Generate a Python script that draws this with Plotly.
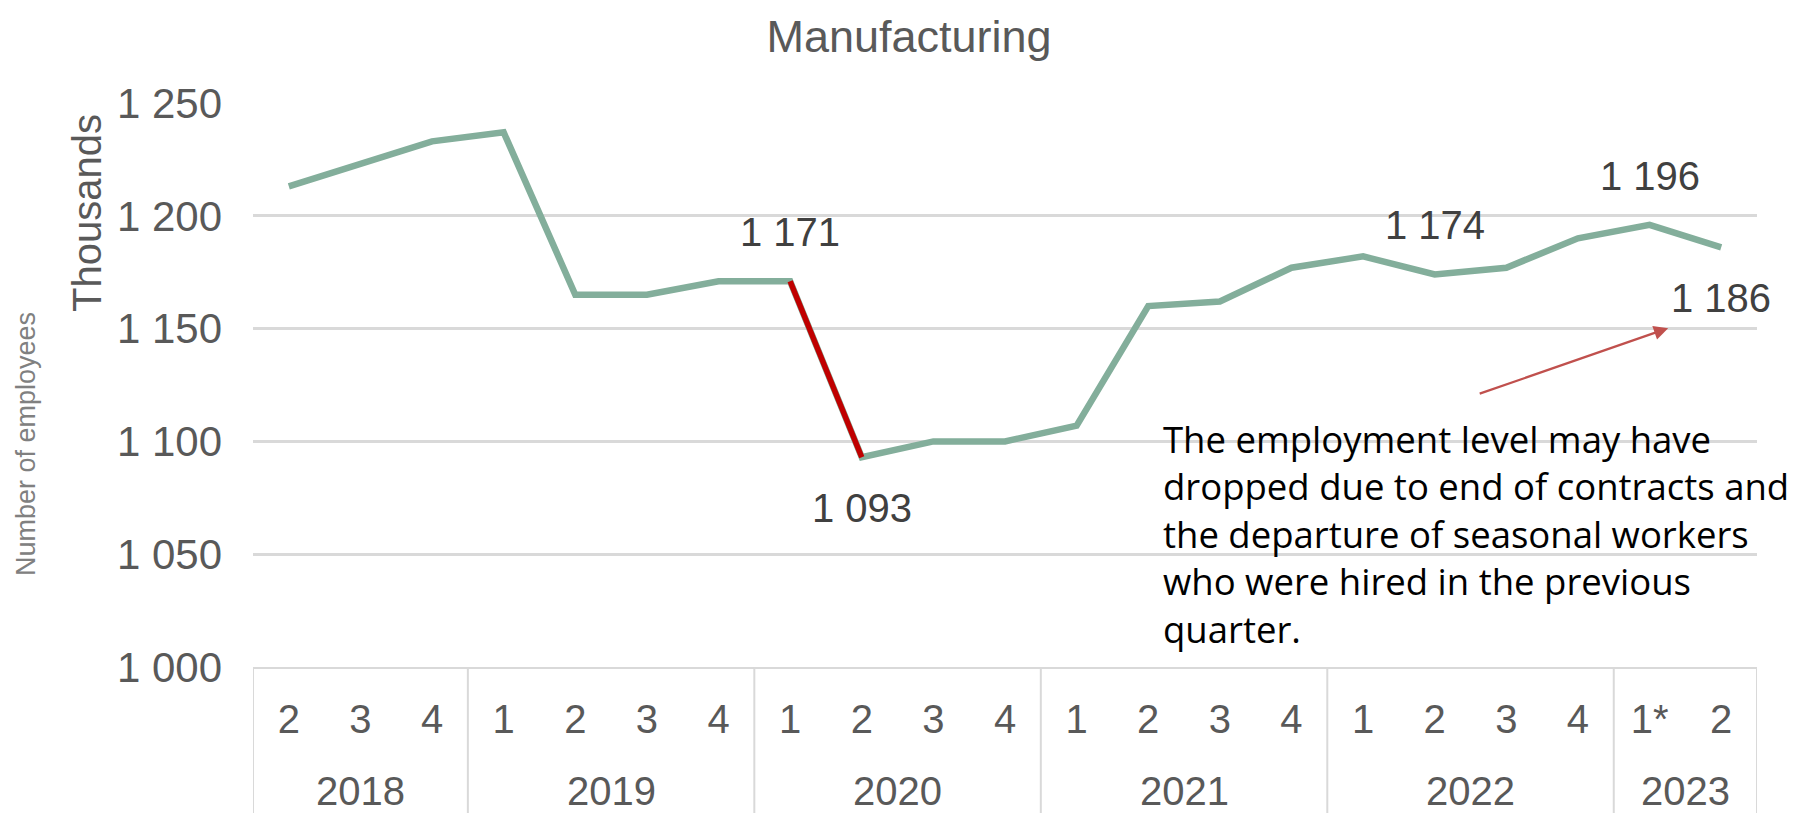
import plotly.graph_objects as go

# ---- data ----
quarters = ["2", "3", "4", "1", "2", "3", "4", "1", "2", "3", "4",
            "1", "2", "3", "4", "1", "2", "3", "4", "1*", "2"]
years = ["2018", "2019", "2020", "2021", "2022", "2023"]
year_counts = [3, 4, 4, 4, 4, 2]
employees = [1213, 1223, 1233, 1237, 1165, 1165, 1171, 1171, 1093, 1100, 1100,
             1107, 1160, 1162, 1177, 1182, 1174, 1177, 1190, 1196, 1186]
drop_idx = [7, 8]  # highlighted drop 2020 Q1 -> Q2
label_idx = [7, 8, 16, 19, 20]
label_pos = ["above", "below", "above", "above", "below"]
y_ticks = [1000, 1050, 1100, 1150, 1200, 1250]
y_ticktext = ["1 000", "1 050", "1 100", "1 150", "1 200", "1 250"]
note = ("The employment level may have<br>dropped due to end of contracts and<br>"
        "the departure of seasonal workers<br>who were hired in the previous<br>quarter.")

FONT = "Liberation Sans, Arial, sans-serif"
GREEN = "#83AE9B"
RED = "#C00000"
GRID = "#D9D9D9"
TXT = "#595959"

x = list(range(len(quarters)))

def fmt(v):
    return f"{v:,}".replace(",", " ")

fig = go.Figure()
fig.add_trace(go.Scatter(x=x, y=employees, mode="lines",
                         line=dict(color=GREEN, width=6.5), showlegend=False,
                         hoverinfo="skip"))
fig.add_trace(go.Scatter(x=[x[i] for i in drop_idx], y=[employees[i] for i in drop_idx],
                         mode="lines", line=dict(color=RED, width=5.5),
                         showlegend=False, hoverinfo="skip"))

annotations = []
for i, pos in zip(label_idx, label_pos):
    annotations.append(dict(x=x[i], y=employees[i], xref="x", yref="y",
                            text=fmt(employees[i]), showarrow=False,
                            font=dict(family=FONT, size=40, color="#404040"),
                            yshift=49 if pos == "above" else -51))

# year labels and dividers
shapes = []
start = 0
bounds = [-0.5]
for yr, n in zip(years, year_counts):
    center = start + (n - 1) / 2
    annotations.append(dict(x=center, y=-0.22, xref="x", yref="paper",
                            text=yr, showarrow=False, yanchor="middle",
                            font=dict(family=FONT, size=40, color=TXT)))
    start += n
    bounds.append(start - 0.5)
for b in bounds:
    shapes.append(dict(type="line", xref="x", yref="paper", x0=b, x1=b,
                       y0=0, y1=-0.28, line=dict(color=GRID, width=2)))

# axis titles
annotations.append(dict(x=-0.1104, y=0.805, xref="paper", yref="paper",
                        xanchor="center", yanchor="middle",
                        text="Thousands", textangle=-90, showarrow=False,
                        font=dict(family=FONT, size=40, color=TXT)))
annotations.append(dict(x=-0.151, y=0.395, xref="paper", yref="paper",
                        xanchor="center", yanchor="middle",
                        text="Number of employees", textangle=-90, showarrow=False,
                        font=dict(family=FONT, size=27, color="#808080")))

# note and arrow
annotations.append(dict(x=0.604, y=1059, xref="paper", yref="y", xanchor="left",
                        yanchor="middle", align="left", text=note, showarrow=False,
                        font=dict(family="Open Sans, sans-serif",
                                  size=36.5, color="#000000")))
annotations.append(dict(x=19.26, y=1150.2, xref="x", yref="y", ax=-190, ay=66,
                        axref="pixel", ayref="pixel", text="", showarrow=True,
                        arrowhead=2, arrowsize=1.3, arrowwidth=2.2,
                        arrowcolor="#C0504D"))

fig.update_layout(
    width=1802, height=805,
    margin=dict(l=245, r=53, t=95, b=146),
    paper_bgcolor="white", plot_bgcolor="white",
    title=dict(text="Manufacturing", x=0.5, xanchor="center", y=0.965,
               yanchor="middle", font=dict(family=FONT, size=45, color=TXT)),
    xaxis=dict(range=[-0.5, 20.5], tickvals=x, ticktext=quarters,
               showgrid=False, zeroline=False, showline=True, linecolor=GRID,
               linewidth=2, ticks="", ticklabelstandoff=16,
               tickfont=dict(family=FONT, size=40, color=TXT), fixedrange=True),
    yaxis=dict(range=[1000, 1250], tickvals=y_ticks, ticktext=y_ticktext,
               showgrid=True, gridcolor=GRID, gridwidth=2.5, zeroline=False,
               showline=False, ticks="", ticklabelstandoff=30,
               tickfont=dict(family=FONT, size=42, color=TXT), fixedrange=True),
    annotations=annotations, shapes=shapes,
)

fig.write_html("out.html")
